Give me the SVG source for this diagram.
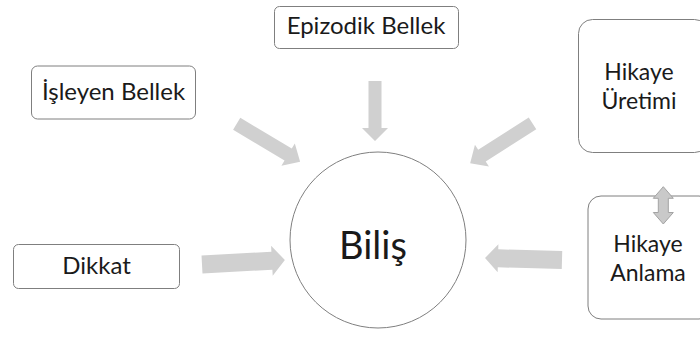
<svg xmlns="http://www.w3.org/2000/svg" width="700" height="343" viewBox="0 0 700 343">
  <style>
    .box { fill: #ffffff; stroke: #7f7f7f; stroke-width: 1; }
    .lbl { font-family: Lato, "Liberation Sans", sans-serif; fill: #1a1a1a; text-anchor: middle; }
    .arrow { fill: #d0d0d0; stroke: none; }
    .dbl { fill: #c9c9c9; stroke: #a3a3a3; stroke-width: 1; }
  </style>
  <rect width="700" height="343" fill="#ffffff"/>

  <g id="node-episodic">
    <rect class="box" x="274.5" y="6.5" width="184" height="42" rx="5"/>
    <text class="lbl" x="366" y="34" font-size="24">Epizodik Bellek</text>
  </g>
  <g id="node-working">
    <rect class="box" x="31.5" y="66" width="164" height="53" rx="6"/>
    <text class="lbl" x="113.5" y="100" font-size="24">İşleyen Bellek</text>
  </g>
  <g id="node-attention">
    <rect class="box" x="13.5" y="244.5" width="166" height="44" rx="5"/>
    <text class="lbl" x="96.5" y="274" font-size="24">Dikkat</text>
  </g>
  <g id="node-story-production">
    <rect class="box" x="578.5" y="19.5" width="130" height="133" rx="14"/>
    <text class="lbl" x="639" y="80" font-size="23">Hikaye</text>
    <text class="lbl" x="639" y="109" font-size="23">Üretimi</text>
  </g>
  <g id="node-story-comprehension">
    <rect class="box" x="588" y="196" width="124" height="123" rx="13"/>
    <text class="lbl" x="648" y="251.5" font-size="23">Hikaye</text>
    <text class="lbl" x="648" y="280.5" font-size="23">Anlama</text>
  </g>
  <g id="node-cognition">
    <circle class="box" cx="378" cy="240" r="88"/>
    <text class="lbl" x="373" y="259" font-size="38">Biliş</text>
  </g>

  <g id="connectors">
    <polygon class="arrow" transform="translate(236.7,123.7) rotate(31)" points="0,-7 60,-7 60,-13 74,0 60,13 60,7 0,7"/>
    <polygon class="arrow" transform="translate(375,81) rotate(90)" points="0,-6.5 47,-6.5 47,-13 60,0 47,13 47,6.5 0,6.5"/>
    <polygon class="arrow" transform="translate(532.5,123.3) rotate(147.4)" points="0,-7 60,-7 60,-13 74,0 60,13 60,7 0,7"/>
    <polygon class="arrow" transform="translate(202,264.5) rotate(-3.1)" points="0,-9 70,-9 70,-15 83,0 70,15 70,9 0,9"/>
    <polygon class="arrow" transform="translate(562,260) rotate(181.5)" points="0,-9 64,-9 64,-14 77,0 64,14 64,9 0,9"/>
    <polygon class="dbl" points="663.3,186.7 673.3,198.3 668.3,198.3 668.3,212.5 673.3,212.5 663.3,224 653.3,212.5 658.3,212.5 658.3,198.3 653.3,198.3"/>
  </g>
</svg>
